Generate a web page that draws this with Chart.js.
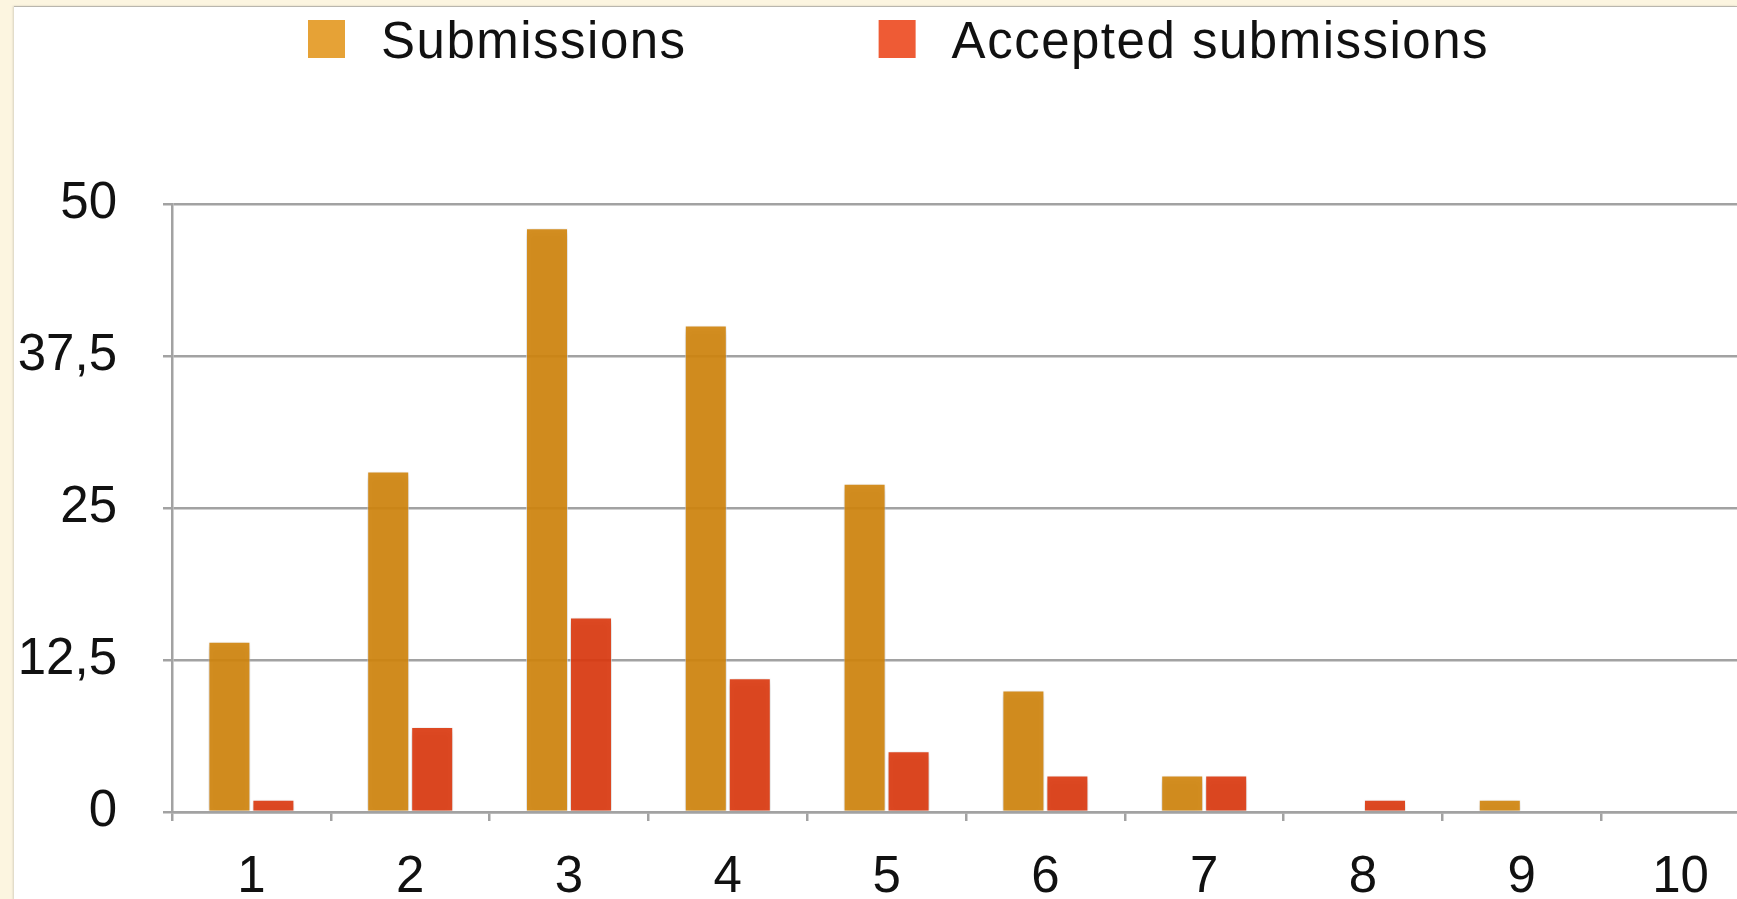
<!DOCTYPE html>
<html>
<head>
<meta charset="utf-8">
<script src="https://cdn.jsdelivr.net/npm/chart.js@4/dist/chart.umd.min.js"></script>
<style>
  html, body { margin: 0; padding: 0; overflow: hidden; background: #fcf5e0; }
  #panel {
    position: absolute; left: 14px; top: 6px; width: 1723px; height: 893px;
    background: #fff; overflow: hidden;
    border-top: 1px solid #b9b6ad;
    box-shadow: -1px 0 2px rgba(0,0,0,0.15);
  }
  #chart { position: absolute; left: 0; top: 0; }
</style>
</head>
<body>
<div id="panel"><canvas id="chart" width="1750" height="893"></canvas></div>
<script>
// Datos
const categories = ["1", "2", "3", "4", "5", "6", "7", "8", "9", "10"];
const submissions = [14, 28, 48, 40, 27, 10, 3, 0, 1, 0];
const accepted = [1, 7, 16, 11, 5, 3, 3, 1, 0, 0];
const yTicks = [0, 12.5, 25, 37.5, 50];
const seriesNames = ["Submissions", "Accepted submissions"];

const FONT = '"Liberation Sans", Helvetica, Arial, sans-serif';
const legendColors = ["#e6a236", "#ee5b35"];
const barColors = ["rgba(208,134,15,0.92)", "rgba(219,59,17,0.92)"];
const gridColor = "#a2a2a2";

// Leyenda dibujada a mano (cuadro + texto)
const legendPlugin = {
    id: "customLegend",
    afterDraw(chart) {
        const ctx = chart.ctx;
        ctx.save();
        ctx.font = "51px " + FONT;
        ctx.letterSpacing = "1.5px";
        ctx.textBaseline = "alphabetic";
        let x = 294;
        seriesNames.forEach((name, i) => {
            ctx.fillStyle = legendColors[i];
            ctx.fillRect(x, 13, 37, 38);
            ctx.fillStyle = "#111";
            ctx.fillText(name, x + 37 + 36, 51);
            x += 37 + 36 + ctx.measureText(name).width + 192;
        });
        ctx.restore();
    }
};

// Sombra suave bajo las barras
const shadowPlugin = {
    id: "barShadow",
    beforeDatasetsDraw(chart) {
        const ctx = chart.ctx;
        ctx.save();
        ctx.shadowColor = "rgba(0,0,0,0.25)";
        ctx.shadowBlur = 8;
        ctx.shadowOffsetY = 3;
    },
    afterDatasetsDraw(chart) {
        chart.ctx.restore();
    }
};

const ctx = document.getElementById("chart").getContext("2d");
const chart = new Chart(ctx, {
    type: "bar",
    data: {
        labels: categories,
        datasets: [{
            label: seriesNames[0],
            data: submissions,
            backgroundColor: barColors[0],
            borderColor: "rgba(255,255,255,0.6)",
            borderWidth: 1,
            categoryPercentage: 0.554,
            barPercentage: 0.955,
        }, {
            label: seriesNames[1],
            data: accepted,
            backgroundColor: barColors[1],
            borderColor: "rgba(255,255,255,0.6)",
            borderWidth: 1,
            categoryPercentage: 0.554,
            barPercentage: 0.955,
        }],
    },
    options: {
        responsive: false,
        animation: false,
        devicePixelRatio: 1,
        layout: { padding: { top: 197, left: 0, right: 4, bottom: 0 } },
        plugins: {
            legend: { display: false },
            tooltip: { enabled: false },
        },
        scales: {
            x: {
                offset: true,
                afterFit: s => { s.height = 88; },
                grid: {
                    offset: true,
                    drawOnChartArea: false,
                    drawTicks: true,
                    tickLength: 9,
                    color: gridColor,
                    lineWidth: 2.5,
                },
                border: { display: true, color: gridColor, width: 2.5 },
                ticks: {
                    color: "#111",
                    font: { family: FONT, size: 51 },
                    padding: 26,
                    maxRotation: 0,
                    autoSkip: false,
                },
            },
            y: {
                min: 0,
                max: 50,
                afterFit: s => { s.width = 158; },
                afterBuildTicks: s => { s.ticks = yTicks.map(v => ({ value: v })); },
                grid: {
                    color: gridColor,
                    lineWidth: 2.5,
                    drawTicks: true,
                    tickLength: 9,
                },
                border: { display: true, color: gridColor, width: 2.5 },
                ticks: {
                    color: "#111",
                    font: { family: FONT, size: 51 },
                    padding: 46,
                    callback: v => String(v).replace(".", ","),
                },
            },
        },
    },
    plugins: [shadowPlugin, legendPlugin],
});
</script>
</body>
</html>
